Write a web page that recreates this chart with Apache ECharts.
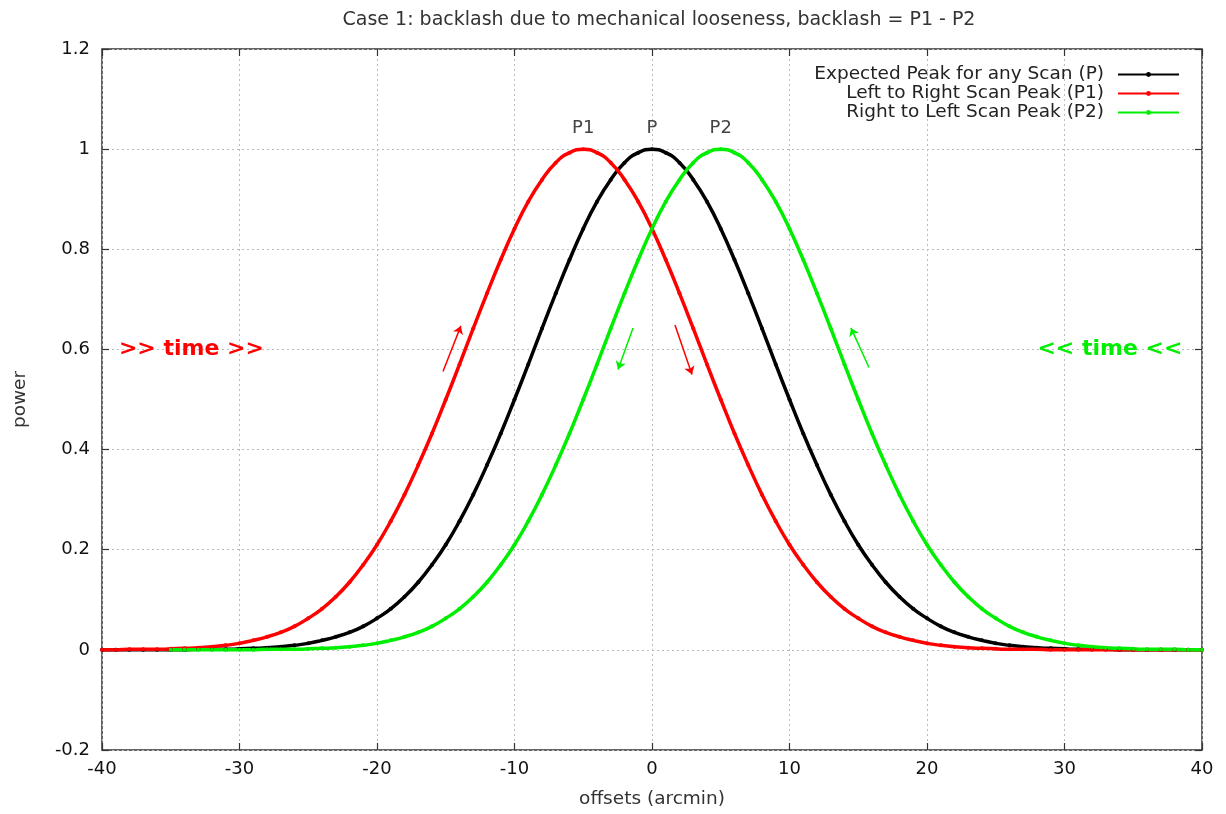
<!DOCTYPE html>
<html><head><meta charset="utf-8">
<script src="https://cdn.jsdelivr.net/npm/echarts@6/dist/echarts.min.js"></script>
<style>html,body{margin:0;padding:0;background:#fff}#c{width:1226px;height:814px}</style>
</head><body><div id="c"></div>
<script>
const titleText = 'Case 1: backlash due to mechanical looseness, backlash = P1 - P2';
const seriesNames = ['Expected Peak for any Scan (P)', 'Left to Right Scan Peak (P1)', 'Right to Left Scan Peak (P2)'];
const xTicks = [-40, -30, -20, -10, 0, 10, 20, 30, 40];
const yTicks = [-0.2, 0, 0.2, 0.4, 0.6, 0.8, 1, 1.2];

const offsetsFull = [-40,-39,-38,-37,-36,-35,-34,-33,-32,-31,-30,-29,-28,-27,-26,-25,-24,-23,-22,-21,-20,-19,-18,-17,-16,-15,-14,-13,-12,-11,-10,-9,-8,-7,-6,-5,-4,-3,-2,-1,0,1,2,3,4,5,6,7,8,9,10,11,12,13,14,15,16,17,18,19,20,21,22,23,24,25,26,27,28,29,30,31,32,33,34,35,36,37,38,39,40];
const offsetsGreen = [-35,-34,-33,-32,-31,-30,-29,-28,-27,-26,-25,-24,-23,-22,-21,-20,-19,-18,-17,-16,-15,-14,-13,-12,-11,-10,-9,-8,-7,-6,-5,-4,-3,-2,-1,0,1,2,3,4,5,6,7,8,9,10,11,12,13,14,15,16,17,18,19,20,21,22,23,24,25,26,27,28,29,30,31,32,33,34,35,36,37,38,39,40];

const powerP = [0,0,0,0,0,0,0,0.001,0.001,0.001,0.002,0.003,0.004,0.006,0.009,0.013,0.019,0.026,0.035,0.047,0.063,0.082,0.106,0.135,0.170,0.210,0.257,0.310,0.369,0.432,0.500,0.570,0.642,0.712,0.779,0.841,0.895,0.939,0.973,0.993,1,0.993,0.973,0.939,0.895,0.841,0.779,0.712,0.642,0.570,0.500,0.432,0.369,0.310,0.257,0.210,0.170,0.135,0.106,0.082,0.063,0.047,0.035,0.026,0.019,0.013,0.009,0.006,0.004,0.003,0.002,0.001,0.001,0.001,0,0,0,0,0,0,0];
const powerP1 = [0,0,0.001,0.001,0.001,0.002,0.003,0.004,0.006,0.009,0.013,0.019,0.026,0.035,0.047,0.063,0.082,0.106,0.135,0.170,0.210,0.257,0.310,0.369,0.432,0.500,0.570,0.642,0.712,0.779,0.841,0.895,0.939,0.973,0.993,1,0.993,0.973,0.939,0.895,0.841,0.779,0.712,0.642,0.570,0.500,0.432,0.369,0.310,0.257,0.210,0.170,0.135,0.106,0.082,0.063,0.047,0.035,0.026,0.019,0.013,0.009,0.006,0.004,0.003,0.002,0.001,0.001,0.001,0,0,0,0,0,0,0,0,0,0,0,0];
const powerP2 = [0,0,0,0,0,0,0,0.001,0.001,0.001,0.002,0.003,0.004,0.006,0.009,0.013,0.019,0.026,0.035,0.047,0.063,0.082,0.106,0.135,0.170,0.210,0.257,0.310,0.369,0.432,0.500,0.570,0.642,0.712,0.779,0.841,0.895,0.939,0.973,0.993,1,0.993,0.973,0.939,0.895,0.841,0.779,0.712,0.642,0.570,0.500,0.432,0.369,0.310,0.257,0.210,0.170,0.135,0.106,0.082,0.063,0.047,0.035,0.026,0.019,0.013,0.009,0.006,0.004,0.003,0.002,0.001,0.001,0.001,0,0];

const peakLabels = [['P1', -5], ['P', 0], ['P2', 5]];
const arrowsRed = [[[-15.2, 0.556], [-13.9, 0.647]], [[1.67, 0.649], [2.91, 0.550]]];
const arrowsGreen = [[[-1.38, 0.643], [-2.47, 0.560]], [[15.78, 0.564], [14.47, 0.643]]];

const FONT = 'DejaVu Sans, Verdana, sans-serif';
const pair = (xs, ys) => xs.map((x, i) => [x, ys[i]]);
const colors = ['#000000', '#ff0000', '#00ee00'];

function lineSeries(name, data, color, extra) {
  return Object.assign({
    name, type: 'line', data, smooth: true,
    symbol: 'circle', symbolSize: 4, showSymbol: true,
    lineStyle: { color, width: 3.5 }, itemStyle: { color },
    emphasis: { disabled: true }, animation: false, z: 3
  }, extra || {});
}

const tickStyle = { inside: true, length: 7, lineStyle: { color: '#333', width: 1.2 } };
const gridLine = { show: true, lineStyle: { color: '#bbb', type: [2, 3], width: 1 } };

const chart = echarts.init(document.getElementById('c'));
chart.setOption({
  backgroundColor: '#fff',
  animation: false,
  title: { text: titleText, left: 654, textAlign: 'center', top: 6,
    textStyle: { fontSize: 19, fontWeight: 'normal', color: '#333', fontFamily: FONT } },
  legend: {
    data: seriesNames, orient: 'vertical', right: 41, top: 60, align: 'right',
    itemWidth: 61, itemHeight: 6, itemGap: 0,
    textStyle: { fontSize: 18.5, lineHeight: 19, color: '#222', fontFamily: FONT, padding: [0, 9, 0, 0] }
  },
  grid: { left: 102, right: 24, top: 49, bottom: 63, show: true, borderColor: '#333', borderWidth: 1.5 },
  xAxis: [{
    type: 'value', min: -40, max: 40, interval: 10,
    name: 'offsets (arcmin)', nameLocation: 'middle', nameGap: 40,
    nameTextStyle: { fontSize: 18.5, color: '#333', fontFamily: FONT },
    axisLine: { show: false, onZero: false }, axisTick: tickStyle,
    axisLabel: { fontSize: 18, color: '#111', margin: 10, fontFamily: FONT,
      formatter: v => xTicks.includes(v) ? String(v) : '' },
    splitLine: gridLine
  }, {
    type: 'value', min: -40, max: 40, interval: 10, position: 'top',
    axisLine: { show: false, onZero: false }, axisTick: tickStyle,
    axisLabel: { show: false }, splitLine: { show: false }
  }],
  yAxis: [{
    type: 'value', min: -0.2, max: 1.2, interval: 0.2,
    name: 'power', nameLocation: 'middle', nameGap: 72, nameRotate: 90,
    nameTextStyle: { fontSize: 18.5, color: '#333', fontFamily: FONT },
    axisLine: { show: false, onZero: false }, axisTick: tickStyle,
    axisLabel: { fontSize: 18, color: '#111', margin: 12, fontFamily: FONT,
      formatter: v => { const t = yTicks.find(k => Math.abs(k - v) < 1e-9); return t === undefined ? '' : String(+t.toFixed(1)); } },
    splitLine: gridLine
  }, {
    type: 'value', min: -0.2, max: 1.2, interval: 0.2, position: 'right',
    axisLine: { show: false, onZero: false }, axisTick: tickStyle,
    axisLabel: { show: false }, splitLine: { show: false }
  }],
  series: [
    lineSeries(seriesNames[0], pair(offsetsFull, powerP), colors[0], {
      markPoint: {
        symbol: 'circle', symbolSize: 0, silent: true,
        label: { show: true, position: 'inside', fontSize: 18, color: '#444', fontFamily: FONT,
          formatter: p => p.name },
        data: peakLabels.map(([n, x]) => ({ name: n, coord: [x, 1.042] }))
      }
    }),
    lineSeries(seriesNames[1], pair(offsetsFull, powerP1), colors[1], {
      markLine: {
        silent: true, symbol: ['none', 'arrow'], symbolSize: 8, animation: false,
        lineStyle: { color: '#ff0000', width: 1.5, type: 'solid' }, label: { show: false },
        data: arrowsRed.map(([a, b]) => [{ coord: a }, { coord: b }])
      },
      markPoint: {
        symbol: 'circle', symbolSize: 0, silent: true,
        label: { show: true, position: 'inside', fontSize: 22, fontWeight: 'bold', color: '#ff0000',
          fontFamily: FONT, formatter: '>> time >>' },
        data: [{ coord: [-33.5, 0.6] }]
      }
    }),
    lineSeries(seriesNames[2], pair(offsetsGreen, powerP2), colors[2], {
      markLine: {
        silent: true, symbol: ['none', 'arrow'], symbolSize: 8, animation: false,
        lineStyle: { color: '#00ee00', width: 1.5, type: 'solid' }, label: { show: false },
        data: arrowsGreen.map(([a, b]) => [{ coord: a }, { coord: b }])
      },
      markPoint: {
        symbol: 'circle', symbolSize: 0, silent: true,
        label: { show: true, position: 'inside', fontSize: 22, fontWeight: 'bold', color: '#00ee00',
          fontFamily: FONT, formatter: '<< time <<' },
        data: [{ coord: [33.3, 0.6] }]
      }
    })
  ]
});
</script></body></html>
